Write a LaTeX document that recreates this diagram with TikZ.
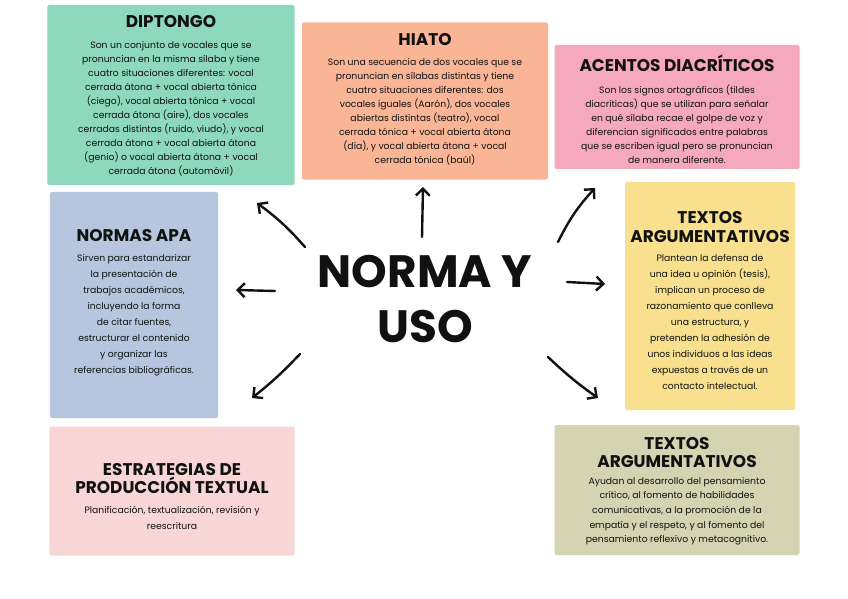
\documentclass[tikz,border=0pt]{standalone}
\usepackage{fontspec}
\setmainfont{Poppins}
\newfontfamily\headfont{Poppins}
\usetikzlibrary{arrows.meta,positioning}
\definecolor{diptongo}{HTML}{8ED8BE}
\definecolor{hiato}{HTML}{F9B596}
\definecolor{acentos}{HTML}{F5A8BE}
\definecolor{apa}{HTML}{B5C6DE}
\definecolor{argu}{HTML}{F8E08E}
\definecolor{estrat}{HTML}{F7D6D5}
\definecolor{olive}{HTML}{D4D4B3}
\definecolor{ink}{HTML}{111111}
\tikzset{
  panel/.style={fill=#1,inner sep=0pt,rounded corners=2bp},
  heading/.style={font=\headfont\bfseries\fontsize{17}{18.5}\selectfont,align=center,inner sep=0pt,text=ink},
  body/.style={font=\fontsize{9.3}{14}\selectfont,align=center,inner sep=0pt,text=ink},
  arr/.style={-{Straight Barb[length=7bp,width=14bp]},line width=2.4bp,draw=ink,line cap=round}
}

\begin{document}
\begin{tikzpicture}[x=1bp,y=-1bp,node distance=12bp]
 \useasboundingbox[fill=white] (0,0) rectangle (848,599);
 % coloured panels
 \node[panel=diptongo,minimum width=247bp,minimum height=180bp] (dipBox) at (171,95) {};
 \node[panel=hiato,minimum width=246bp,minimum height=157bp] (hiaBox) at (425,101) {};
 \node[panel=acentos,minimum width=245bp,minimum height=124bp] (aceBox) at (677,107) {};
 \node[panel=apa,minimum width=168bp,minimum height=226bp] (apaBox) at (134,305) {};
 \node[panel=argu,minimum width=170bp,minimum height=228bp] (argBox) at (710,296) {};
 \node[panel=estrat,minimum width=245bp,minimum height=129bp] (estBox) at (172,491) {};
 \node[panel=olive,minimum width=245bp,minimum height=130bp] (oliBox) at (677,490) {};
 % headings and texts
 \node[heading] (dipHead) at (171,22) {DIPTONGO};
 \node[body,below=13bp of dipHead] (dipText) {Son un conjunto de vocales que se\\pronuncian en la misma sílaba y tiene\\cuatro situaciones diferentes: vocal\\cerrada átona + vocal abierta tónica\\(ciego), vocal abierta tónica + vocal\\cerrada átona (aire), dos vocales\\cerradas distintas (ruido, viudo), y vocal\\cerrada átona + vocal abierta átona\\(genio) o vocal abierta átona + vocal\\cerrada átona (automóvil)};
 \node[heading] (hiaHead) at (425,40) {HIATO};
 \node[body,below=of hiaHead] (hiaText) {Son una secuencia de dos vocales que se\\pronuncian en sílabas distintas y tiene\\cuatro situaciones diferentes: dos\\vocales iguales (Aarón), dos vocales\\abiertas distintas (teatro), vocal\\cerrada tónica + vocal abierta átona\\(día), y vocal abierta átona + vocal\\cerrada tónica (baúl)};
 \node[heading] (aceHead) at (677,63) {ACENTOS DIACRÍTICOS};
 \node[body,below=13bp of aceHead] (aceText) {Son los signos ortográficos (tildes\\diacríticas) que se utilizan para señalar\\en qué sílaba recae el golpe de voz y\\diferencian significados entre palabras\\que se escriben igual pero se pronuncian\\de manera diferente.};
 \node[heading] (apaHead) at (134,236) {NORMAS APA};
 \node[body,font=\fontsize{9.3}{16}\selectfont,below=of apaHead] (apaText) {Sirven para estandarizar\\la presentación de\\trabajos académicos,\\incluyendo la forma\\de citar fuentes,\\estructurar el contenido\\y organizar las\\referencias bibliográficas.};
 \node[heading] (argHead) at (710,227) {TEXTOS\\ARGUMENTATIVOS};
 \node[body,font=\fontsize{9.3}{16}\selectfont,below=of argHead] (argText) {Plantean la defensa de\\una idea u opinión (tesis),\\implican un proceso de\\razonamiento que conlleva\\una estructura, y\\pretenden la adhesión de\\unos individuos a las ideas\\expuestas a través de un\\contacto intelectual.};
 \node[heading] (estHead) at (172,478.5) {ESTRATEGIAS DE\\PRODUCCIÓN TEXTUAL};
 \node[body,font=\fontsize{9.3}{16}\selectfont,below=of estHead] (estText) {Planificación, textualización, revisión y\\reescritura};
 \node[heading] (oliHead) at (677,452.5) {TEXTOS\\ARGUMENTATIVOS};
 \node[body,font=\fontsize{9.3}{14.7}\selectfont,below=9bp of oliHead] (oliText) {Ayudan al desarrollo del pensamiento\\crítico, al fomento de habilidades\\comunicativas, a la promoción de la\\empatía y el respeto, y al fomento del\\pensamiento reflexivo y metacognitivo.};
 % centre
 \node[font=\headfont\bfseries\fontsize{45.5}{55}\selectfont,align=center,inner sep=0pt,text=ink] (centre) at (425,299) {NORMA Y\\USO};
 % arrow ends
 \coordinate (s1) at (305,247); \coordinate (e1) at (257,203);
 \coordinate (s2) at (422,237); \coordinate (e2) at (423,187);
 \coordinate (s3) at (558,242); \coordinate (e3) at (595,188);
 \coordinate (s4) at (275,291); \coordinate (e4) at (236,290);
 \coordinate (s5) at (567,282); \coordinate (e5) at (605,284);
 \coordinate (s6) at (300,354); \coordinate (e6) at (252,398);
 \coordinate (s7) at (548,357); \coordinate (e7) at (598,398);
 \draw[arr] (s1) to[bend right=6] (e1);
 \draw[arr] (s2) to (e2);
 \draw[arr] (s3) to[bend left=8] (e3);
 \draw[arr] (s4) to (e4);
 \draw[arr] (s5) to (e5);
 \draw[arr] (s6) to[bend left=4] (e6);
 \draw[arr] (s7) to[bend right=4] (e7);
\end{tikzpicture}
\end{document}
